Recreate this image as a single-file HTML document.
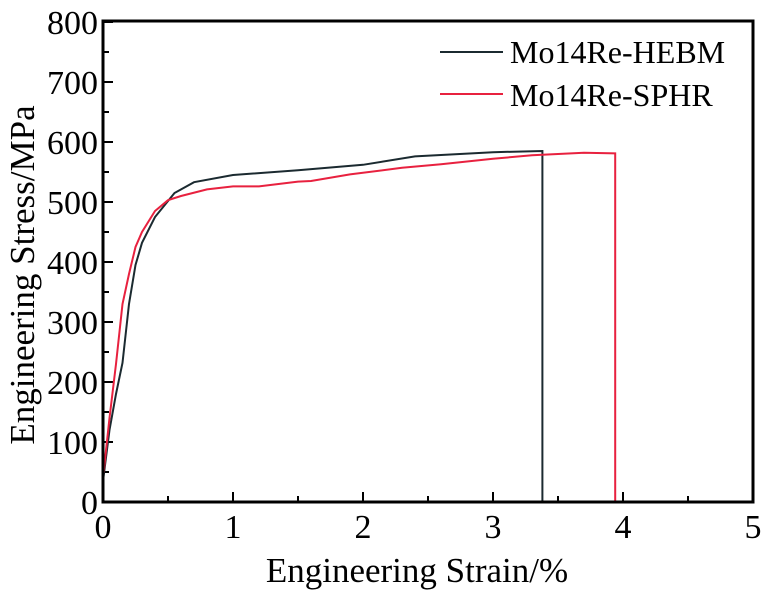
<!DOCTYPE html>
<html><head><meta charset="utf-8"><style>
html,body{margin:0;padding:0;background:#fff;}
svg{display:block;font-family:"Liberation Serif",serif;}
</style></head><body>
<svg id="s" width="765" height="591" viewBox="0 0 765 591" xmlns="http://www.w3.org/2000/svg">
<rect x="0" y="0" width="765" height="591" fill="#fff"/>
<g id="ticks" stroke="#000" stroke-width="2"></g>
<g id="labels" font-size="34" fill="#000"></g>
<polyline id="hebm" fill="none" stroke="#1b2a30" stroke-width="2"/>
<polyline id="sphr" fill="none" stroke="#e8213f" stroke-width="2"/>
<rect x="103" y="21" width="650" height="481" fill="none" stroke="#000" stroke-width="3"/>
<line x1="440" y1="52" x2="503" y2="52" stroke="#1b2a30" stroke-width="2"/>
<line x1="440" y1="94" x2="503" y2="94" stroke="#e8213f" stroke-width="2"/>
<text x="510" y="63" font-size="32">Mo14Re-HEBM</text>
<text x="510" y="106" font-size="32">Mo14Re-SPHR</text>
<text x="417" y="582" font-size="35" text-anchor="middle">Engineering Strain/%</text>
<text transform="translate(34,275) rotate(-90)" font-size="35" text-anchor="middle">Engineering Stress/MPa</text>
</svg>
<script>
var X=function(e){return 103+130*e}, Y=function(s){return 502-0.6*s};
var t=document.getElementById('ticks'), l=document.getElementById('labels'), ns='http://www.w3.org/2000/svg';
function el(p,n,a,txt){var e=document.createElementNS(ns,n);for(var k in a)e.setAttribute(k,a[k]);if(txt!=null)e.textContent=txt;p.appendChild(e);}
for(var i=0;i<=10;i++){var x=X(i/2),len=i%2?6:10;el(t,'line',{x1:x,y1:502,x2:x,y2:502-len});if(i%2==0)el(l,'text',{x:x,y:538,'text-anchor':'middle'},i/2);}
for(var i=0;i<=16;i++){var y=Y(i*50),len=i%2?6:10;el(t,'line',{x1:103,y1:y,x2:103+len,y2:y});if(i%2==0)el(l,'text',{x:98,y:y+12,'text-anchor':'end'},i*50);}
var h=[[0,35],[0.05,120],[0.1,180],[0.15,232],[0.2,330],[0.25,395],[0.3,432],[0.4,475],[0.55,515],[0.7,533],[1,545],[1.5,553],[2,562],[2.4,576],[3,583],[3.38,585],[3.38,0]];
var s=[[0,40],[0.05,140],[0.1,230],[0.15,330],[0.2,380],[0.25,425],[0.3,450],[0.4,485],[0.5,503],[0.6,510],[0.8,521],[1,526],[1.2,526],[1.5,534],[1.6,535],[1.9,546],[2.3,557],[2.6,563],[3,572],[3.3,578],[3.7,582],[3.94,581],[3.94,0]];
function pts(a){return a.map(function(p){return X(p[0])+','+Y(p[1])}).join(' ')}
document.getElementById('hebm').setAttribute('points',pts(h));
document.getElementById('sphr').setAttribute('points',pts(s));
</script>
</body></html>
